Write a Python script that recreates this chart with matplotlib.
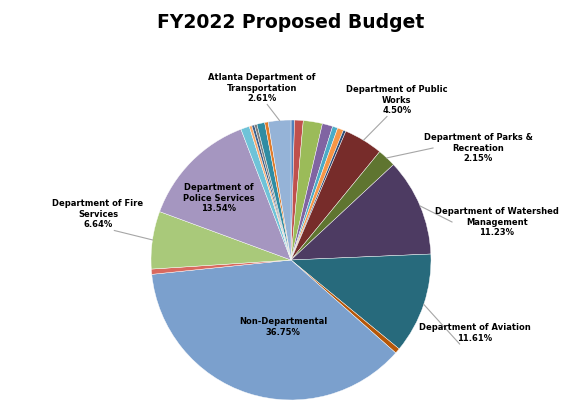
import matplotlib.pyplot as plt
import numpy as np

# slices, clockwise from 12 o'clock
values = [0.4, 1.0, 2.2, 1.2, 0.6, 0.7, 0.3, 4.50, 2.15, 11.23, 11.61, 0.6, 36.75,
          0.6, 6.64, 13.54, 1.0, 0.3, 0.3, 0.3, 0.9, 0.4, 2.61]
colors = ["#4F81BD", "#C0504D", "#9BBB59", "#8064A2", "#4BACC6", "#F79646", "#2C4D75",
          "#772C2A", "#5F7530", "#4D3B62", "#276A7C", "#B65708", "#7BA0CD",
          "#D9695F", "#A9C97A", "#A596C0", "#6FC3D8", "#F9A86A", "#3A5F8C", "#7F7F7F",
          "#2F8CA3", "#E07B2A", "#95B3D7"]

labels = {
    22: ("Atlanta Department of\nTransportation\n2.61%", (262, 88)),
    7: ("Department of Public\nWorks\n4.50%", (397, 100)),
    8: ("Department of Parks &\nRecreation\n2.15%", (478, 148)),
    9: ("Department of Watershed\nManagement\n11.23%", (497, 222)),
    10: ("Department of Aviation\n11.61%", (475, 333)),
    14: ("Department of Fire\nServices\n6.64%", (98, 214)),
}
inside = {
    12: ("Non-Departmental\n36.75%", (283, 327)),
    15: ("Department of\nPolice Services\n13.54%", (219, 198)),
}

W, H = 574, 412
fig = plt.figure(figsize=(W / 100, H / 100), dpi=100)
ax = fig.add_axes([0, 0, 1, 1])

cx, cy, r = 291, H - 260, 140
wedges, _ = ax.pie(values, colors=colors, startangle=90, counterclock=False,
                   center=(cx, cy), radius=r, frame=True,
                   wedgeprops=dict(edgecolor="white", linewidth=0.3))
ax.set_xlim(0, W)
ax.set_ylim(0, H)
ax.axis("off")

for i, (txt, (tx, ty)) in labels.items():
    w = wedges[i]
    ang = np.deg2rad((w.theta1 + w.theta2) / 2)
    px, py = cx + r * np.cos(ang), cy + r * np.sin(ang)
    ty = H - ty
    n = txt.count("\n") + 1
    # line attaches to nearest edge of the text block
    if abs(tx - px) > 60:
        ex = tx - np.sign(tx - px) * 45
        ey = ty
    else:
        ex = tx + (px - tx) * 0.3
        ey = ty - n * 5.5
    ax.plot([px, ex], [py, ey], color="#A6A6A6", lw=0.8)
    ax.text(tx, ty, txt, ha="center", va="center", fontsize=6,
            fontweight="bold", linespacing=1.2)

for i, (txt, (tx, ty)) in inside.items():
    ax.text(tx, H - ty, txt, ha="center", va="center", fontsize=6,
            fontweight="bold", linespacing=1.2)

ax.text(291, H - 22, "FY2022 Proposed Budget", ha="center", va="center",
        fontsize=13.5, fontweight="bold")

fig.savefig("out.png", dpi=100)
